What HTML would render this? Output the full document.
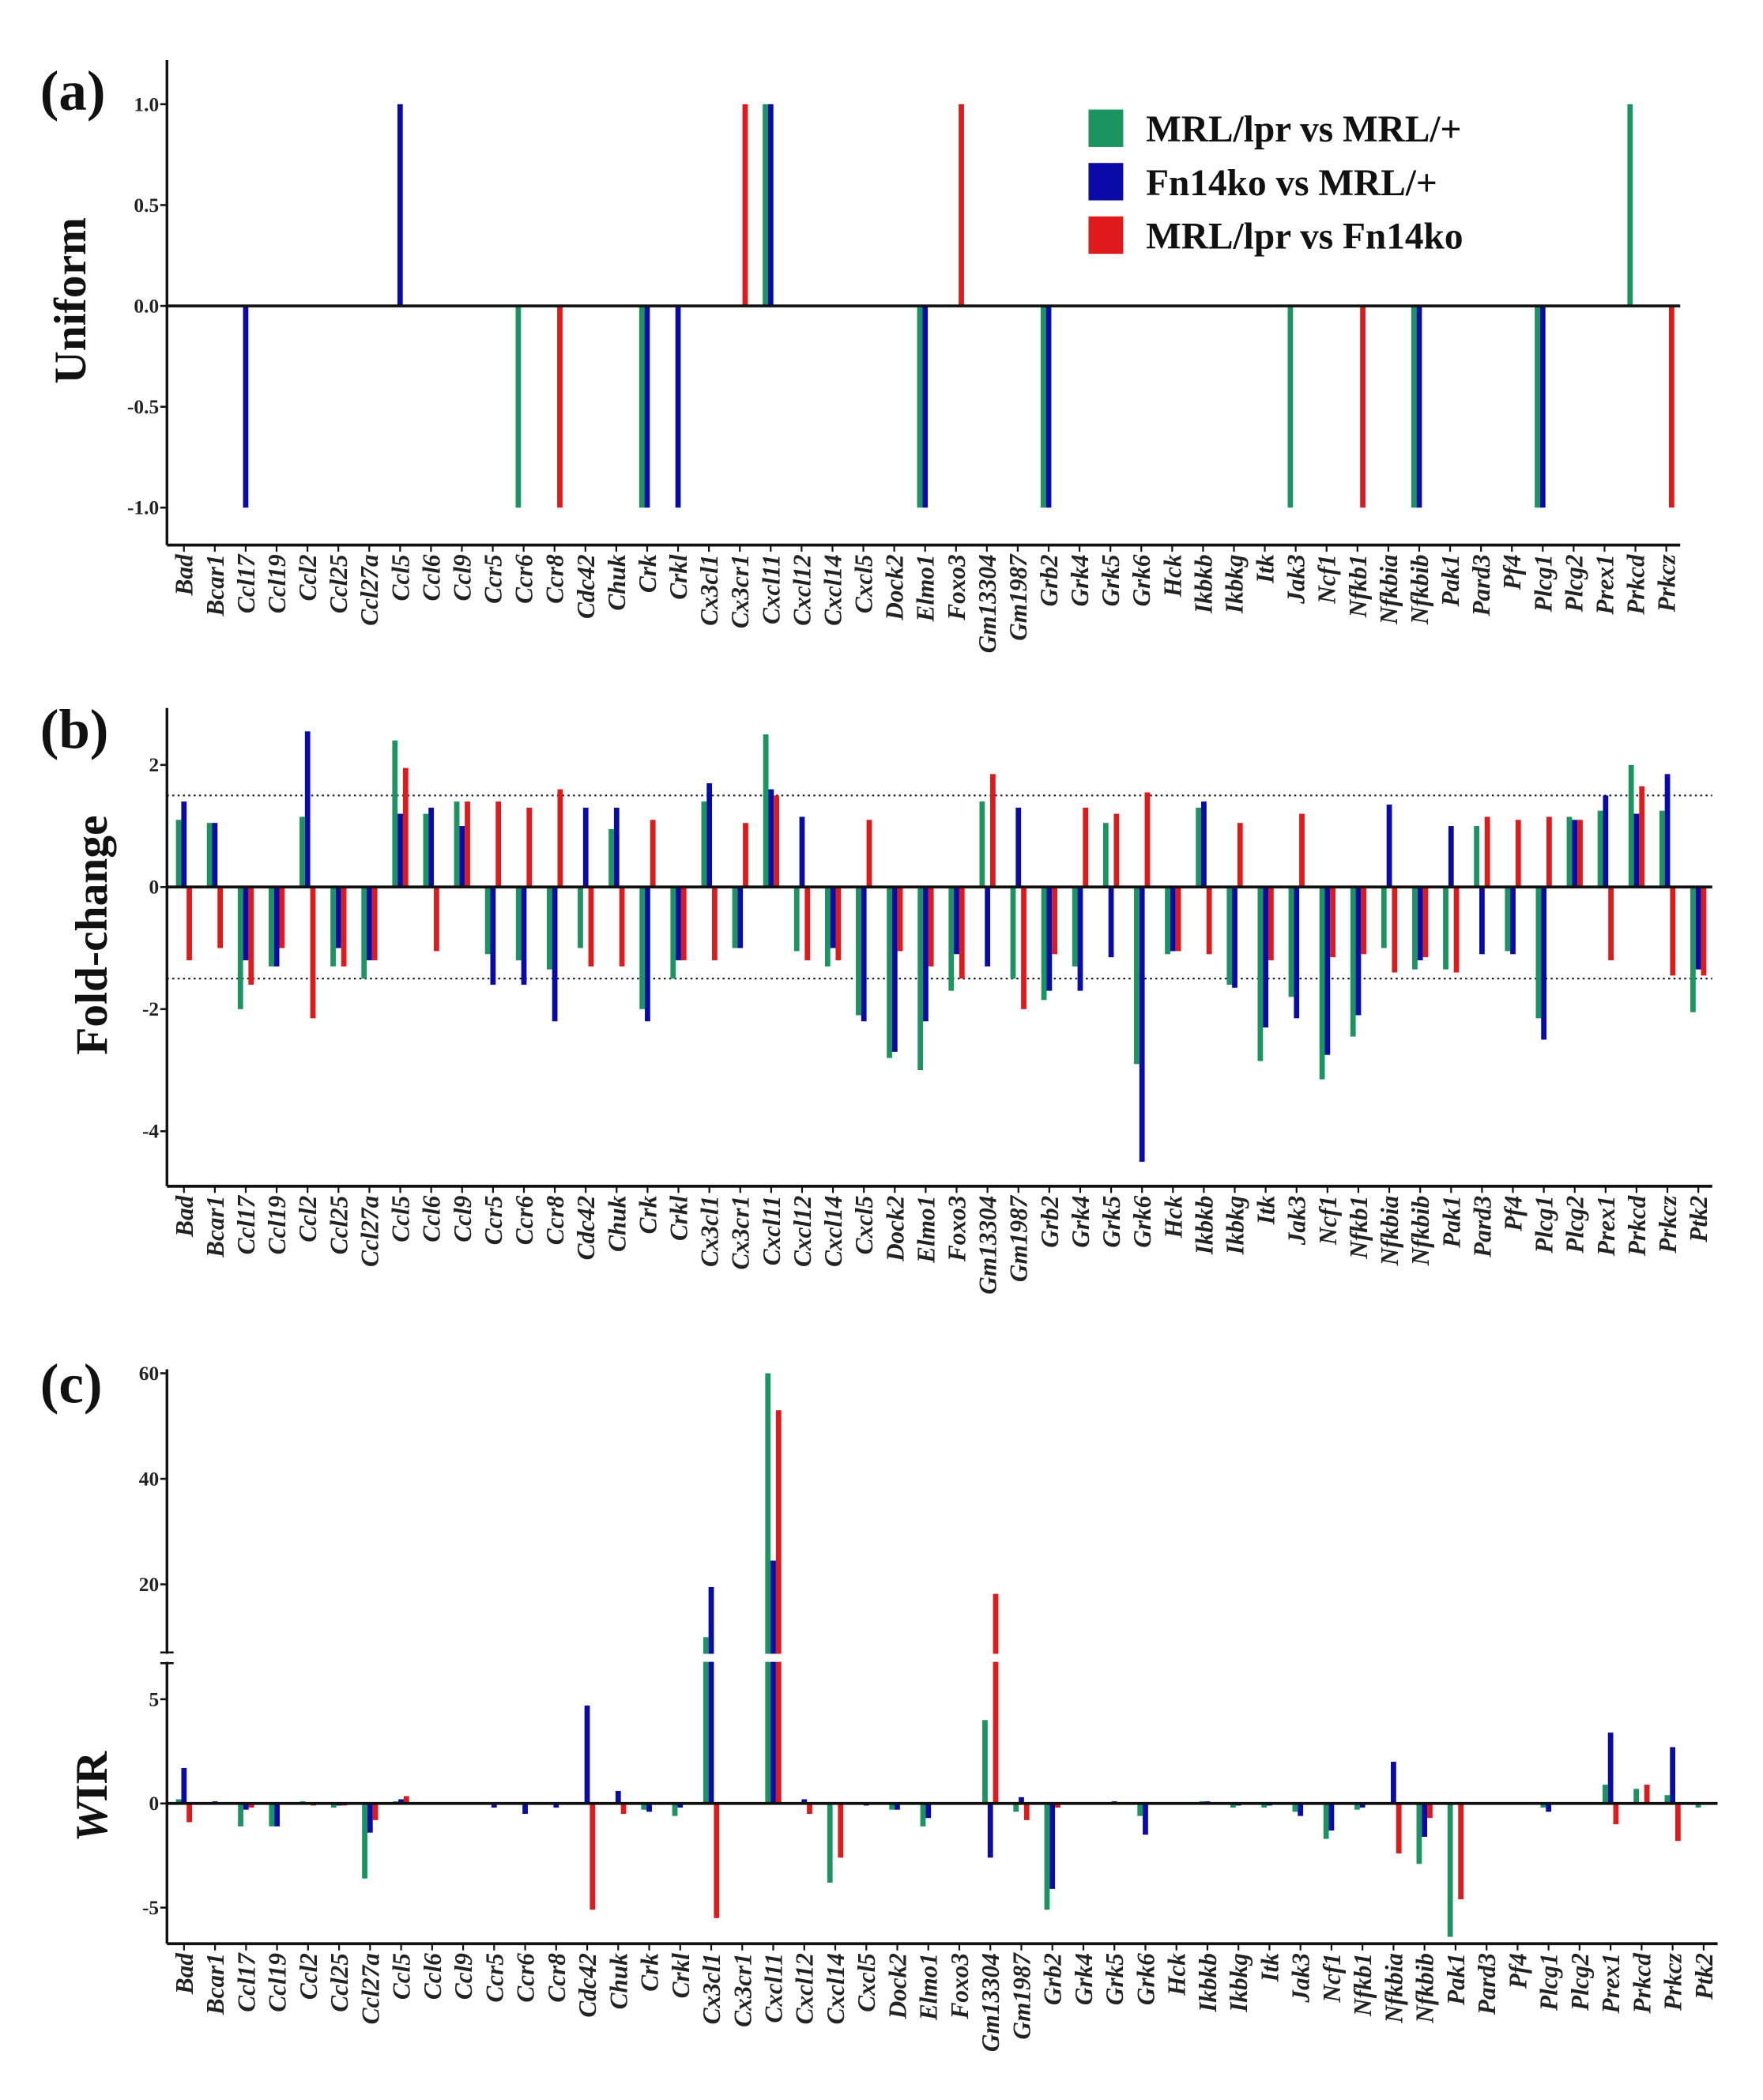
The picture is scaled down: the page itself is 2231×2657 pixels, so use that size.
<!DOCTYPE html>
<html><head><meta charset="utf-8"><style>
html,body{margin:0;padding:0;background:#fff;}
svg{display:block;}
text{font-family:"Liberation Serif",serif;}
</style></head><body>
<svg id="fig" width="2231" height="2657" viewBox="0 0 1320 1572" preserveAspectRatio="none" xmlns="http://www.w3.org/2000/svg">
<g id="root"></g>
</svg>
<script>
const catsA=["Bad","Bcar1","Ccl17","Ccl19","Ccl2","Ccl25","Ccl27a","Ccl5","Ccl6","Ccl9","Ccr5","Ccr6","Ccr8","Cdc42","Chuk","Crk","Crkl","Cx3cl1","Cx3cr1","Cxcl11","Cxcl12","Cxcl14","Cxcl5","Dock2","Elmo1","Foxo3","Gm13304","Gm1987","Grb2","Grk4","Grk5","Grk6","Hck","Ikbkb","Ikbkg","Itk","Jak3","Ncf1","Nfkb1","Nfkbia","Nfkbib","Pak1","Pard3","Pf4","Plcg1","Plcg2","Prex1","Prkcd","Prkcz"];
const catsBC=catsA.concat(["Ptk2"]);
const seriesNames=["MRL/lpr vs MRL/+","Fn14ko vs MRL/+","MRL/lpr vs Fn14ko"];
const colors=["#1a9461","#0a0aa8","#e0191b"];
// Panel a (uniform)
const aGreen=[0,0,0,0,0,0,0,0,0,0,0,-1,0,0,0,-1,0,0,0,1,0,0,0,0,-1,0,0,0,-1,0,0,0,0,0,0,0,-1,0,0,0,-1,0,0,0,-1,0,0,1,0];
const aBlue=[0,0,-1,0,0,0,0,1,0,0,0,0,0,0,0,-1,-1,0,0,1,0,0,0,0,-1,0,0,0,-1,0,0,0,0,0,0,0,0,0,0,0,-1,0,0,0,-1,0,0,0,0];
const aRed=[0,0,0,0,0,0,0,0,0,0,0,0,-1,0,0,0,0,0,1,0,0,0,0,0,0,1,0,0,0,0,0,0,0,0,0,0,0,0,-1,0,0,0,0,0,0,0,0,0,-1];
const aTicks=[1.0,0.5,0.0,-0.5,-1.0];
// Panel b (fold-change)
const bGreen=[1.1,1.05,-2.0,-1.3,1.15,-1.3,-1.5,2.4,1.2,1.4,-1.1,-1.2,-1.35,-1.0,0.95,-2.0,-1.5,1.4,-1.0,2.5,-1.05,-1.3,-2.1,-2.8,-3.0,-1.7,1.4,-1.5,-1.85,-1.3,1.05,-2.9,-1.1,1.3,-1.6,-2.85,-1.8,-3.15,-2.45,-1.0,-1.35,-1.35,1.0,-1.05,-2.15,1.15,1.25,2.0,1.25,-2.05];
const bBlue=[1.4,1.05,-1.2,-1.3,2.55,-1.0,-1.2,1.2,1.3,1.0,-1.6,-1.6,-2.2,1.3,1.3,-2.2,-1.2,1.7,-1.0,1.6,1.15,-1.0,-2.2,-2.7,-2.2,-1.1,-1.3,1.3,-1.7,-1.7,-1.15,-4.5,-1.05,1.4,-1.65,-2.3,-2.15,-2.75,-2.1,1.35,-1.2,1.0,-1.1,-1.1,-2.5,1.1,1.5,1.2,1.85,-1.35];
const bRed=[-1.2,-1.0,-1.6,-1.0,-2.15,-1.3,-1.2,1.95,-1.05,1.4,1.4,1.3,1.6,-1.3,-1.3,1.1,-1.2,-1.2,1.05,1.5,-1.2,-1.2,1.1,-1.05,-1.3,-1.5,1.85,-2.0,-1.1,1.3,1.2,1.55,-1.05,-1.1,1.05,-1.2,1.2,-1.15,-1.1,-1.4,-1.15,-1.4,1.15,1.1,1.15,1.1,-1.2,1.65,-1.45,-1.45];
const bTicks=[2,0,-2,-4];
const bThresh=[1.5,-1.5];
// Panel c (WIR)
const cGreen=[0.2,0,-1.1,-1.1,0.1,-0.2,-3.6,0.1,0,0,0,0,0,0,0,-0.3,-0.6,10,0,60,0,-3.8,0,-0.3,-1.1,0,4.0,-0.4,-5.1,0,0,-0.6,0,0.1,-0.2,-0.2,-0.4,-1.7,-0.3,0,-2.9,-6.4,0,0,-0.2,0,0.9,0.7,0.4,-0.2];
const cBlue=[1.7,0.1,-0.3,-1.1,0,-0.1,-1.4,0.2,0,0,-0.2,-0.5,-0.2,4.7,0.6,-0.4,-0.2,19.5,0,24.5,0.2,0,-0.1,-0.3,-0.7,0,-2.6,0.3,-4.1,0,0.1,-1.5,0,0.1,-0.1,-0.1,-0.6,-1.3,-0.2,2.0,-1.6,0,0,0,-0.4,0,3.4,0,2.7,0];
const cRed=[-0.9,0,-0.2,0,-0.1,-0.1,-0.8,0.35,0,0,0,0,0,-5.1,-0.5,0,0,-5.5,0,53,-0.5,-2.6,0,0,0,0,18.2,-0.8,-0.2,0,0,0,0,0,0,0,0,0,0,-2.4,-0.7,-4.6,0,0,0,0,-1.0,0.9,-1.8,0];
const cTicks=[60,40,20,5,0,-5];

const NS="http://www.w3.org/2000/svg";
const root=document.getElementById('root');
function el(tag,attrs,parent){const e=document.createElementNS(NS,tag);for(const k in attrs)e.setAttribute(k,attrs[k]);(parent||root).appendChild(e);return e;}

function panel(opt){
  const g=el('g',{});
  
  
  const n=opt.cats.length, band=(opt.x1-opt.x0)/n;
  const xc=i=>opt.x0+(i+0.55)*band;
  (opt.thresh||[]).forEach(t=>{
    const l=el('line',{x1:opt.x0,x2:opt.x1,y1:opt.y(t),y2:opt.y(t),stroke:'#222','stroke-width':1.3,'stroke-dasharray':'1.5,2.5'},g);
    
    
  });
  const offs=[-4,0,4];
  opt.series.forEach((arr,s)=>{
    arr.forEach((v,i)=>{
      if(v===0)return;
      const y0=opt.y(0),y1=opt.y(v);
      const r=el('rect',{x:xc(i)+offs[s]-2,y:Math.min(y0,y1),width:4,height:Math.abs(y1-y0),fill:colors[s]},g);
      
      
    });
  });
  if(opt.breakY){
    opt.series.forEach((arr,s)=>arr.forEach((v,i)=>{
      if(v>opt.breakV){el('rect',{x:xc(i)+offs[s]-3,y:opt.breakY-4,width:6,height:6,fill:'#fff'},g);}
    }));
  }
  const z=el('line',{x1:opt.x0,x2:opt.x1,y1:opt.y(0),y2:opt.y(0),stroke:'#111','stroke-width':2.2},g);
  
  
  const ya=el('line',{x1:opt.x0,x2:opt.x0,y1:opt.ytop,y2:opt.ybot,stroke:'#111','stroke-width':2},g);
  
  
  if(opt.breakY){el('rect',{x:opt.x0-6,y:opt.breakY-4,width:12,height:6,fill:'#fff'},g);
    el('line',{x1:opt.x0-5,x2:opt.x0+5,y1:opt.breakY-5,y2:opt.breakY-5,stroke:'#111','stroke-width':1.5},g);
    el('line',{x1:opt.x0-5,x2:opt.x0+5,y1:opt.breakY+3,y2:opt.breakY+3,stroke:'#111','stroke-width':1.5},g);}
  const xa=el('line',{x1:opt.x0,x2:opt.x1,y1:opt.ybot,y2:opt.ybot,stroke:'#111','stroke-width':2.2},g);
  
  
  opt.ticks.forEach((t,k)=>{
    const y=opt.y(t);
    el('line',{x1:opt.x0-5,x2:opt.x0,y1:y,y2:y,stroke:'#111','stroke-width':1.5},g);
    const tx=el('text',{x:opt.x0-6,y:y+5,'text-anchor':'end','font-size':15,'font-weight':'bold',fill:'#222'},g);
    tx.textContent=opt.tickFmt(t);
    
    
  });
  opt.cats.forEach((c,i)=>{
    const x=xc(i);
    el('line',{x1:x,x2:x,y1:opt.ybot,y2:opt.ybot+5,stroke:'#111','stroke-width':1.3},g);
    const tx=el('text',{x:0,y:0,transform:`translate(${x+6.5},${opt.ybot+7}) rotate(-90)`,'text-anchor':'end','font-size':18.5,'font-style':'italic','font-weight':'bold',fill:'#222'},g);
    tx.textContent=c;
    
    
  });
  const yt=el('text',{x:0,y:0,transform:`translate(${opt.titleX},${opt.titleY}) rotate(-90)`,'text-anchor':'middle','font-size':34,'font-weight':'bold',fill:'#111'},g);
  yt.innerHTML=opt.title;
  
  
  const pl=el('text',{x:30,y:opt.labelY,'font-size':42,'font-weight':'bold',fill:'#111'},g);
  pl.textContent=opt.letter;
  
  
}

panel({name:'panel-a-uniform',cats:catsA,series:[aGreen,aBlue,aRed],x0:125,x1:1258,ytop:45,ybot:408,
  y:v=>229-v*151,ticks:aTicks,tickFmt:t=>t.toFixed(1),title:'Uniform',titleX:64,titleY:225,letter:'(a)',labelY:82});
panel({name:'panel-b-fold-change',cats:catsBC,series:[bGreen,bBlue,bRed],x0:125,x1:1282,ytop:530,ybot:888,
  y:v=>664-v*45.7,ticks:bTicks,tickFmt:t=>String(t),thresh:bThresh,title:'Fold-change',titleX:80,titleY:700,letter:'(b)',labelY:560});
panel({name:'panel-c-wir',cats:catsBC,series:[cGreen,cBlue,cRed],x0:125,x1:1286,ytop:1025,ybot:1455,
  y:v=>v<=6.5?1350-v*15.6:1186-(v-20)*3.95,breakY:1242,breakV:6.5,ticks:cTicks,tickFmt:t=>String(t),title:'<tspan font-style="italic">W</tspan>IR',titleX:80,titleY:1345,letter:'(c)',labelY:1050});

const lg=el('g',{});


seriesNames.forEach((s,i)=>{
  const r=el('rect',{x:815,y:82+i*40,width:26,height:28,fill:colors[i]},lg);
  
  
  const t=el('text',{x:858,y:106+i*40,'font-size':28,'font-weight':'bold',fill:'#111'},lg);
  t.textContent=s;
  
  
});
</script>
</body></html>
